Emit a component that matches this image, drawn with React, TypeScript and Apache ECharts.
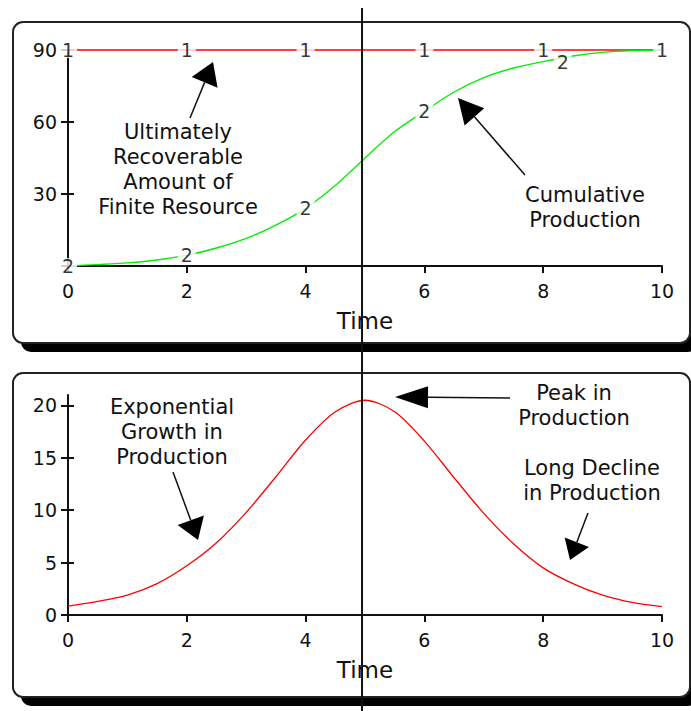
import React, { useEffect, useRef } from "react";
import * as echarts from "echarts";

// ---- data ----
const timeSteps = [0, 0.5, 1, 1.5, 2, 2.5, 3, 3.5, 4, 4.5, 5, 5.5, 6, 6.5, 7, 7.5, 8, 8.5, 9, 9.5, 10];
const cumulativeProduction = [0, 0.6, 1.3, 2.5, 4.5, 7.5, 11.5, 17, 24, 33.5, 45, 56, 64.5, 72.5, 78.5, 82.5, 85.2, 87.5, 89, 89.7, 90];
const production = [0.85, 1.3, 1.9, 3.0, 4.7, 6.9, 9.8, 13.2, 16.7, 19.4, 20.5, 19.4, 16.6, 13.1, 9.7, 6.8, 4.5, 3.0, 1.9, 1.2, 0.8];
const ultimateTimes = [0, 10];
const ultimateValues = [90, 90];
const marker1Times = [0, 2, 4, 6, 8, 10];
const marker1Values = [90, 90, 90, 90, 90, 90];
const marker2Times = [0, 2, 4, 6, 8.33];
const marker2Values = [0, 4.5, 24, 64.5, 85];
const timeTicks = [0, 2, 4, 6, 8, 10];
const stockTicks = [0, 30, 60, 90];
const stockLabels = [30, 60, 90];
const flowTicks = [0, 5, 10, 15, 20];
const peakTime = 4.95;

const FONT = "DejaVu Sans";
const INK = "#111";

function arrow(x1: number, y1: number, x2: number, y2: number, len: number, half: number) {
  const dx = x2 - x1, dy = y2 - y1;
  const d = Math.hypot(dx, dy);
  const ux = dx / d, uy = dy / d;
  const bx = x2 - ux * len, by = y2 - uy * len;
  return [
    { type: "line", z: 5, shape: { x1, y1, x2: bx, y2: by }, style: { stroke: INK, lineWidth: 1.5 } },
    {
      type: "polygon", z: 5,
      shape: { points: [[x2, y2], [bx - uy * half, by + ux * half], [bx + uy * half, by - ux * half]] },
      style: { fill: "#000" },
    },
  ];
}

function note(text: string, x: number, y: number) {
  return {
    type: "text", z: 5, x, y,
    style: { text, textAlign: "center", textVerticalAlign: "middle", font: `21px '${FONT}'`, fill: INK, lineHeight: 25 },
  };
}

function panel(x: number, y: number, w: number, h: number) {
  return [
    { type: "rect", z: -20, shape: { x: x + 8, y: y + 9, width: w, height: h, r: 10 }, style: { fill: "#000" } },
    { type: "rect", z: -19, shape: { x, y, width: w, height: h, r: 10 }, style: { fill: "#fff", stroke: "#222", lineWidth: 2 } },
  ];
}

function xAxes(gridIndex: number) {
  const base = {
    type: "value", gridIndex, min: 0, max: 10, interval: 2,
    splitLine: { show: false },
  };
  return [
    {
      ...base,
      axisLine: { show: true, lineStyle: { color: INK, width: 2 } },
      axisTick: { show: true, inside: false, length: 7, lineStyle: { color: INK, width: 2 }, customValues: timeTicks },
      axisLabel: { show: true, fontSize: 19, fontFamily: FONT, color: INK, margin: 15, customValues: timeTicks },
      name: "Time", nameLocation: "middle", nameGap: 43,
      nameTextStyle: { fontSize: 23, fontFamily: FONT, color: INK },
    },
    {
      ...base,
      axisLine: { show: false },
      axisTick: { show: true, inside: true, length: 4, lineStyle: { color: INK, width: 2 }, customValues: timeTicks },
      axisLabel: { show: false },
    },
  ];
}

function yAxes(gridIndex: number, max: number, interval: number, ticks: number[], labels: number[]) {
  const base = { type: "value", gridIndex, min: 0, max, interval, position: "left", splitLine: { show: false } };
  return [
    {
      ...base,
      axisLine: { show: true, lineStyle: { color: INK, width: 2 } },
      axisTick: { show: true, inside: false, length: 7, lineStyle: { color: INK, width: 2 }, customValues: ticks },
      axisLabel: { show: true, fontSize: 19, fontFamily: FONT, color: INK, margin: 11, customValues: labels },
    },
    {
      ...base,
      axisLine: { show: false },
      axisTick: { show: true, inside: true, length: 6, lineStyle: { color: INK, width: 2 }, customValues: ticks },
      axisLabel: { show: false },
    },
  ];
}

function markerSeries(times: number[], values: number[], text: string) {
  return {
    type: "scatter", xAxisIndex: 0, yAxisIndex: 0, z: 4,
    data: times.map((t, i) => [t, values[i]]),
    symbol: "rect", symbolSize: [18, 16],
    itemStyle: { color: "#fff" },
    label: { show: true, position: "inside", formatter: text, fontSize: 19, fontFamily: FONT, color: "#000" },
    silent: true, clip: false,
  };
}

export default function App() {
  const ref = useRef<HTMLDivElement>(null);
  useEffect(() => {
    document.body.style.margin = "0";
    if (!ref.current) return;
    const chart = echarts.init(ref.current, undefined, { renderer: "svg" });
    chart.setOption({
      animation: false,
      backgroundColor: "#fff",
      grid: [
        { left: 68, top: 50, width: 594, height: 216 },
        { left: 68, top: 395, width: 594, height: 220 },
      ],
      xAxis: [...xAxes(0), ...xAxes(1)],
      yAxis: [...yAxes(0, 90, 30, stockTicks, stockLabels), ...yAxes(1, 21, 5, flowTicks, flowTicks)],
      series: [
        {
          type: "line", xAxisIndex: 0, yAxisIndex: 0, clip: false,
          data: ultimateTimes.map((t, i) => [t, ultimateValues[i]]),
          symbol: "none", lineStyle: { color: "#ff0000", width: 1.3 },
        },
        {
          type: "line", xAxisIndex: 0, yAxisIndex: 0, clip: false, smooth: 0.3,
          data: timeSteps.map((t, i) => [t, cumulativeProduction[i]]),
          symbol: "none", lineStyle: { color: "#00ee00", width: 1.3 },
        },
        markerSeries(marker1Times, marker1Values, "1"),
        markerSeries(marker2Times, marker2Values, "2"),
        {
          type: "line", xAxisIndex: 2, yAxisIndex: 2, clip: false, smooth: 0.3,
          data: timeSteps.map((t, i) => [t, production[i]]),
          symbol: "none", lineStyle: { color: "#ff0000", width: 1.3 },
        },
      ],
    });
    const px = chart.convertToPixel({ xAxisIndex: 0 }, peakTime) as number;
    chart.setOption({
      graphic: [
        ...panel(13, 22, 677, 321),
        ...panel(13, 373, 677, 324),
        { type: "line", z: 10, shape: { x1: px, y1: 8, x2: px, y2: 711 }, style: { stroke: "#111", lineWidth: 2 } },
        note("Ultimately\nRecoverable\nAmount of\nFinite Resource", 178, 169),
        ...arrow(190, 118, 213, 62, 22, 14),
        note("Cumulative\nProduction", 585, 207),
        ...arrow(525, 175, 458, 98, 25, 13),
        note("Exponential\nGrowth in\nProduction", 172, 432),
        ...arrow(173, 472, 198, 540, 21, 14),
        note("Peak in\nProduction", 574, 405),
        ...arrow(510, 398, 395, 397, 33, 11),
        note("Long Decline\nin Production", 592, 480),
        ...arrow(588, 513, 570, 560, 19, 13),
      ],
    });
    return () => chart.dispose();
  }, []);
  return <div ref={ref} style={{ width: 691, height: 711 }} />;
}
